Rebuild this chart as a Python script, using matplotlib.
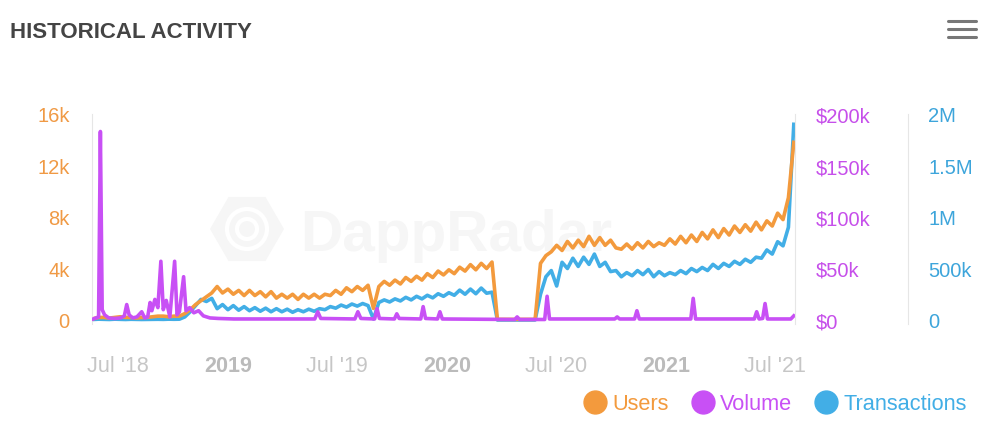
import numpy as np
import pandas as pd
import matplotlib
matplotlib.use("Agg")
import matplotlib.pyplot as plt
from matplotlib.lines import Line2D
from matplotlib.patches import RegularPolygon, Circle

plt.rcParams["font.family"] = ["Liberation Sans", "DejaVu Sans"]

# users + transactions, one point every 9 days
sample_dates = pd.date_range("2018-05-20", periods=131, freq="9D")

users_k = [
    0.1, 0.2, 0.2, 0.15, 0.2, 0.25, 0.2, 0.2, 0.15, 0.2,
    0.2, 0.25, 0.3, 0.3, 0.25, 0.3, 0.3, 0.5, 0.8, 1.2,
    1.5, 1.8, 2.1, 2.6, 2.1, 2.4, 2.0, 2.3, 1.9, 2.3,
    1.9, 2.2, 1.8, 2.2, 1.7, 2.0, 1.7, 2.0, 1.6, 2.0,
    1.7, 2.0, 1.7, 2.0, 1.9, 2.3, 2.0, 2.5, 2.2, 2.6,
    2.3, 2.7, 0.9, 2.6, 3.0, 2.7, 3.1, 2.8, 3.3, 3.0,
    3.4, 3.1, 3.6, 3.3, 3.8, 3.5, 3.9, 3.6, 4.1, 3.8,
    4.3, 3.9, 4.4, 4.0, 4.5, 0.05, 0.05, 0.05, 0.05, 0.05,
    0.05, 0.05, 0.05, 4.4, 5.0, 5.3, 5.8, 5.4, 6.1, 5.6,
    6.2, 5.7, 6.5, 5.8, 6.4, 5.8, 6.2, 5.6, 5.5, 5.9,
    5.5, 6.0, 5.6, 6.1, 5.7, 6.0, 5.8, 6.3, 5.9, 6.5,
    6.0, 6.6, 6.1, 6.8, 6.3, 7.0, 6.4, 7.1, 6.6, 7.3,
    6.8, 7.4, 6.9, 7.6, 7.0, 7.7, 7.3, 8.3, 7.8, 9.5,
    13.8,
]

transactions_k = [
    5, 8, 6, 5, 8, 6, 5, 7, 6, 5,
    6, 8, 7, 6, 8, 7, 8, 30, 80, 140,
    200, 180, 210, 110, 150, 100, 140, 95, 130, 90,
    120, 85, 115, 80, 110, 80, 105, 75, 100, 80,
    105, 85, 110, 100, 130, 115, 145, 125, 155, 135,
    160, 140, 10, 170, 195, 175, 205, 185, 220, 195,
    230, 205, 240, 215, 255, 230, 265, 240, 290, 250,
    300, 255, 310, 260, 270, 0, 0, 0, 0, 0,
    0, 0, 0, 250, 420, 480, 330, 560, 500, 600,
    520, 610, 540, 640, 520, 560, 470, 480, 420, 460,
    430, 480, 440, 490, 420, 470, 430, 460, 440, 480,
    450, 500, 470, 510, 480, 540, 500, 550, 520, 570,
    540, 590, 560, 610, 600, 680, 640, 760, 720, 900,
    1900,
]

# volume is mostly flat with narrow spikes, so it gets its own dates
volume_dates = [
    "2018-05-20", "2018-05-29", "2018-06-01", "2018-06-04", "2018-06-08",
    "2018-06-15", "2018-06-25", "2018-07-05", "2018-07-11", "2018-07-15",
    "2018-07-19", "2018-07-25", "2018-08-01", "2018-08-09", "2018-08-14",
    "2018-08-19", "2018-08-23", "2018-08-26", "2018-08-31", "2018-09-05",
    "2018-09-10", "2018-09-14", "2018-09-19", "2018-09-25", "2018-10-03",
    "2018-10-07", "2018-10-11", "2018-10-18", "2018-10-22", "2018-10-28",
    "2018-11-04", "2018-11-12", "2018-11-20", "2018-12-01", "2018-12-15",
    "2019-01-10", "2019-05-25", "2019-05-30", "2019-06-04", "2019-07-31",
    "2019-08-05", "2019-08-10", "2019-09-02", "2019-09-06", "2019-09-10",
    "2019-10-05", "2019-10-09", "2019-10-13", "2019-11-18", "2019-11-22",
    "2019-11-26", "2019-12-16", "2019-12-20", "2019-12-24", "2020-04-23",
    "2020-04-27", "2020-05-01", "2020-06-12", "2020-06-16", "2020-06-20",
    "2020-10-07", "2020-10-11", "2020-10-15", "2020-11-09", "2020-11-13",
    "2020-11-17", "2021-02-11", "2021-02-15", "2021-02-19", "2021-05-28",
    "2021-06-01", "2021-06-05", "2021-06-11", "2021-06-15", "2021-06-19",
    "2021-07-28", "2021-08-02",
]
volume_k = [
    1, 3, 183, 10, 5,
    2, 1.5, 2, 4, 15,
    5, 2, 3, 8, 2,
    3, 17, 9, 20, 12,
    57, 10, 19, 3, 57,
    5, 8, 42, 9, 12,
    7, 9, 4, 2, 1.5,
    1, 1, 8, 1.5, 1,
    8, 1.5, 1, 11, 1.5,
    1, 6, 1.5, 1, 13,
    1.5, 1, 8, 1, 0.5,
    3, 0.5, 0.5, 23, 1,
    1, 3, 1, 1, 9,
    1, 1, 21, 1, 1,
    8, 1, 1.5, 16, 1,
    1, 4,
]

x_tick_dates = ["2018-07-01", "2019-01-01", "2019-07-01", "2020-01-01",
                "2020-07-01", "2021-01-01", "2021-07-01"]
x_tick_labels = ["Jul '18", "2019", "Jul '19", "2020", "Jul '20", "2021", "Jul '21"]

users_ticks = [0, 4000, 8000, 12000, 16000]
users_labels = ["0", "4k", "8k", "12k", "16k"]
volume_ticks = [0, 50000, 100000, 150000, 200000]
volume_labels = ["$0", "$50k", "$100k", "$150k", "$200k"]
tx_ticks = [0, 500000, 1000000, 1500000, 2000000]
tx_labels = ["0", "500k", "1M", "1.5M", "2M"]

c_users = "#F39A3D"
c_vol = "#C850F5"
c_tx = "#42AEE6"
grey_line = "#e6e6e6"

fig = plt.figure(figsize=(10.01, 4.35), dpi=100)

# background layer in pixel coords: title, menu icon, watermark
bg = fig.add_axes([0, 0, 1, 1])
bg.set_xlim(0, 1001)
bg.set_ylim(435, 0)
bg.axis("off")
bg.set_zorder(0)

bg.add_patch(RegularPolygon((247, 230), numVertices=6, radius=37,
                            orientation=np.pi / 6, facecolor="#f6f6f6",
                            edgecolor="none"))
bg.add_patch(Circle((247, 230), 20, fill=False, edgecolor="white", lw=3))
bg.add_patch(Circle((247, 230), 10, fill=False, edgecolor="white", lw=3))
bg.text(300, 251, "DappRadar", fontsize=42, fontweight="bold",
        color="#f6f6f6", va="baseline")

bg.text(10, 33, "HISTORICAL ACTIVITY", fontsize=16, fontweight="bold",
        color="#444444", va="center")
for yy in (22, 30, 38):
    bg.plot([948, 976], [yy, yy], color="#777777", lw=2.2,
            solid_capstyle="round")

# main plot + two twin axes
ax_u = fig.add_axes([92 / 1001, 1 - 325 / 435, 703 / 1001, 210 / 435])
ax_v = ax_u.twinx()
ax_t = ax_u.twinx()
ax_t.set_zorder(1)
ax_u.set_zorder(2)
ax_v.set_zorder(3)

for a in (ax_u, ax_v, ax_t):
    a.patch.set_visible(False)
    for s in a.spines.values():
        s.set_visible(False)

ax_t.plot(sample_dates, np.array(transactions_k) * 1000, color=c_tx, lw=2.6,
          solid_joinstyle="round")
ax_u.plot(sample_dates, np.array(users_k) * 1000, color=c_users, lw=2.6,
          solid_joinstyle="round")
ax_v.plot(pd.to_datetime(volume_dates), np.array(volume_k) * 1000, color=c_vol,
          lw=2.6, solid_joinstyle="round")

ax_u.set_xlim(pd.Timestamp("2018-05-18"), pd.Timestamp("2021-08-04"))

pad = 4 / 206  # zero sits a few px above the plot bottom
ax_u.set_ylim(-16000 * pad, 16000)
ax_v.set_ylim(-200000 * pad, 200000)
ax_t.set_ylim(-2000000 * pad, 2000000)

ax_u.spines["left"].set_visible(True)
ax_u.spines["left"].set_color(grey_line)
ax_v.spines["right"].set_visible(True)
ax_v.spines["right"].set_color(grey_line)
ax_t.spines["right"].set_visible(True)
ax_t.spines["right"].set_color(grey_line)
ax_t.spines["right"].set_position(("axes", (908 - 92) / 703))

ax_u.set_yticks(users_ticks, users_labels)
ax_u.tick_params(axis="y", length=0, pad=16, labelsize=14.5, labelcolor="#F09A45")
ax_v.set_yticks(volume_ticks, volume_labels)
ax_v.tick_params(axis="y", length=0, pad=15, labelsize=14.5, labelcolor="#C64FEA")
ax_t.set_yticks(tx_ticks, tx_labels)
ax_t.tick_params(axis="y", length=0, pad=14.4, labelsize=14.5, labelcolor="#3DA5DB")

ax_u.set_xticks(pd.to_datetime(x_tick_dates), x_tick_labels)
ax_u.tick_params(axis="x", length=0, pad=22, labelsize=15.5, labelcolor="#c6c6c6")
for lbl in ax_u.get_xticklabels():
    if not lbl.get_text().startswith("Jul"):
        lbl.set_fontweight("bold")
        lbl.set_color("#bbbbbb")

# legend
names = ["Users", "Volume", "Transactions"]
cols = [c_users, c_vol, c_tx]
handles = [Line2D([], [], ls="none", marker="o", markersize=16.5,
                  markerfacecolor=c, markeredgecolor=c) for c in cols]
leg = fig.legend(handles, names, loc="center left",
                 bbox_to_anchor=(584 / 1001, 1 - 405 / 435), ncol=3,
                 frameon=False, fontsize=15.7, handlelength=1.0,
                 handletextpad=0.3, columnspacing=1.05, borderpad=0,
                 borderaxespad=0)
for txt, c in zip(leg.get_texts(), cols):
    txt.set_color(c)

fig.savefig("out.png", dpi=100)
